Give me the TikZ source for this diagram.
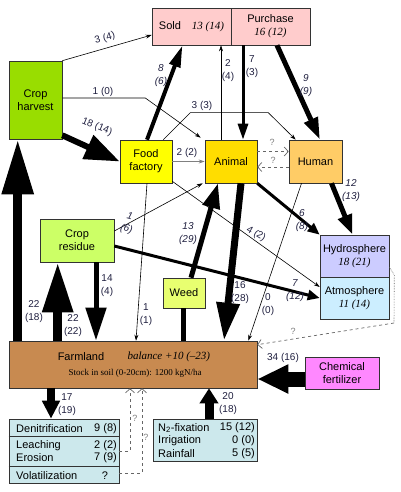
\documentclass[tikz,border=0pt]{standalone}
\usepackage{fontspec}
\setmainfont{Liberation Serif}
\setsansfont{Liberation Sans}
\usetikzlibrary{arrows.meta}
\definecolor{edge}{HTML}{333333}
\definecolor{labtext}{HTML}{202040}
\definecolor{pinkbox}{HTML}{FFCCCC}
\definecolor{harvestcol}{HTML}{99DD00}
\definecolor{factorycol}{HTML}{FFFF00}
\definecolor{animalcol}{HTML}{FFDD00}
\definecolor{humancol}{HTML}{FFCC66}
\definecolor{hydrocol}{HTML}{CCCCFF}
\definecolor{atmocol}{HTML}{CCEEFF}
\definecolor{residuecol}{HTML}{CCFF66}
\definecolor{weedcol}{HTML}{E8FF70}
\definecolor{farmcol}{HTML}{C88A50}
\definecolor{chemcol}{HTML}{FF88FF}
\definecolor{poolcol}{HTML}{CCE8EC}
\begin{document}
\begin{tikzpicture}[x=1pt,y=-1pt,
    box/.style={draw=edge,line width=0.6pt,inner sep=0pt,align=center,
      font=\sffamily\fontsize{11}{13}\selectfont},
    lab/.style={inner sep=0pt,align=center,text=labtext,
      font=\sffamily\fontsize{10}{13}\selectfont},
    slant/.style={lab,font=\sffamily\itshape\fontsize{10}{13}\selectfont},
    qlab/.style={lab,text=gray,font=\sffamily\fontsize{9}{11}\selectfont},
    thinflow/.style={line width=0.6pt,-{Stealth[length=6pt,width=4pt]}},
    flow/.style n args={3}{line width=#1,-{Triangle[length=#2,width=#3]}},
    guess/.style={dashed,gray!80!black,line width=0.7pt,-{Straight Barb[length=4pt,width=9pt]}}]
    \fill[white] (0,0) rectangle (400,492);
    \useasboundingbox (0,0) rectangle (400,492);
    %% boxes
    \node[box,fill=pinkbox,minimum width=79pt,minimum height=37pt] (sold) at (191.5,26.5)
      {Sold\quad{\rmfamily\itshape 13 (14)}};
    \node[box,fill=pinkbox,minimum width=79pt,minimum height=37pt] (purchase) at (270.5,26.5)
      {Purchase\\{\rmfamily\itshape 16 (12)}};
    \node[box,fill=harvestcol,minimum width=53pt,minimum height=78pt] (harvest) at (35.5,100)
      {Crop\\harvest};
    \node[box,fill=factorycol,minimum width=52pt,minimum height=43pt] (factory) at (146,161.5)
      {Food\\factory};
    \node[box,fill=animalcol,minimum width=52pt,minimum height=43pt] (animal) at (231,161.5)
      {Animal};
    \node[box,fill=humancol,minimum width=53pt,minimum height=43pt] (human) at (315.5,161.5)
      {Human};
    \node[box,fill=hydrocol,minimum width=69pt,minimum height=42pt] (hydro) at (354.5,256)
      {Hydrosphere\\{\rmfamily\itshape 18 (21)}};
    \node[box,fill=atmocol,minimum width=69pt,minimum height=42pt] (atmo) at (354.5,298)
      {Atmosphere\\{\rmfamily\itshape 11 (14)}};
    \node[box,fill=residuecol,minimum width=74pt,minimum height=43pt] (residue) at (77,240.5)
      {Crop\\residue};
    \node[box,fill=weedcol,minimum width=42pt,minimum height=30pt] (weed) at (184,293)
      {Weed};
    \node[box,fill=farmcol,minimum width=248pt,minimum height=47pt] (farm) at (133,364.5) {};
    \node[box,fill=chemcol,minimum width=74pt,minimum height=32pt] (chem) at (342,373)
      {Chemical\\fertilizer};
    \node[box,fill=poolcol,minimum width=110pt,minimum height=64pt] (loss) at (64,451) {};
    \node[box,fill=poolcol,minimum width=104pt,minimum height=42pt] (input) at (205,440) {};
    %% farmland texts
    \node[font=\sffamily\fontsize{11}{13}\selectfont] (farmname) at (81,357) {Farmland};
    \node[font=\rmfamily\itshape\fontsize{11}{13}\selectfont,anchor=west] (balance) at (124,357)
      {balance +10 (--23)};
    \node[font=\rmfamily\fontsize{9}{11}\selectfont,anchor=west] (stock) at (65,373)
      {Stock in soil (0-20cm): 1200 kgN/ha};
    %% losses
    \draw[edge,line width=0.6pt] ([yshift=-18pt]loss.north west) -- ([yshift=-18pt]loss.north east);
    \draw[edge,line width=0.6pt] ([yshift=-48pt]loss.north west) -- ([yshift=-48pt]loss.north east);
    \begin{scope}[every node/.style={font=\sffamily\fontsize{11}{13}\selectfont,inner sep=1pt}]
      \node[anchor=west] (denit) at (15,429) {Denitrification};
      \node[anchor=east] (denitv) at (118,429) {9 (8)};
      \node[anchor=west] (leach) at (15,446) {Leaching};
      \node[anchor=east] (leachv) at (118,446) {2 (2)};
      \node[anchor=west] (eros) at (15,458) {Erosion};
      \node[anchor=east] (erosv) at (118,458) {7 (9)};
      \node[anchor=west] (volat) at (15,476) {Volatilization};
      \node (volatv) at (105,476) {?};
      \node[anchor=west] (nfix) at (157,428) {N\textsubscript{2}-fixation};
      \node[anchor=east] (nfixv) at (256,428) {15 (12)};
      \node[anchor=west] (irri) at (157,441) {Irrigation};
      \node[anchor=east] (irriv) at (256,441) {0 (0)};
      \node[anchor=west] (rain) at (157,454) {Rainfall};
      \node[anchor=east] (rainv) at (256,454) {5 (5)};
    \end{scope}
    %% flows from crop harvest
    \draw[thinflow] (harvest.north east) -- ([yshift=-8.5pt]sold.west);
    \draw[thinflow] ([yshift=2pt]harvest.east) -- ++(83,0) -- ([xshift=-4pt,yshift=2pt]animal.north west);
    \draw[flow={6pt}{35pt}{25pt}] ([yshift=4pt]harvest.south east) -- (factory.west);
    %% food factory
    \draw[thinflow] ([xshift=-9pt]factory.north east) -- ++(27,-27) -- ++(78,0) -- ([xshift=7pt]human.north west);
    \draw[flow={4pt}{22pt}{11pt}] ([xshift=1pt]factory.north) -- ([xshift=-9pt]sold.south);
    \draw[thinflow,gray] (factory.east) -- (animal.west);
    \draw[thinflow] ([yshift=2pt]factory.south east) -- ([yshift=11pt]atmo.west);
    \draw[thinflow] ([xshift=1pt]factory.south) -- ([xshift=-10pt]factory.south |- farm.north);
    %% animal and human
    \draw[thinflow] ([xshift=-10pt]animal.north) -- ([xshift=-10pt]animal.north |- sold.south);
    \draw[flow={3pt}{16pt}{10pt}] ([xshift=12pt]animal.north |- purchase.south) -- ([xshift=12pt]animal.north);
    \draw[flow={5pt}{22pt}{14pt}] ([xshift=6.5pt]purchase.south) -- ([xshift=4.5pt]human.north);
    \draw[guess] ([yshift=10pt]animal.east) -- ([yshift=10pt]human.west);
    \draw[guess] ([yshift=-5.5pt]human.west) -- ([yshift=-5.5pt]animal.east);
    \draw[flow={5pt}{20pt}{14pt}] ([xshift=16pt]human.south) -- ([xshift=-2pt]hydro.north);
    \draw[flow={3pt}{12pt}{10pt}] (animal.south east) -- (hydro.north west);
    \draw[flow={7pt}{38pt}{22pt}] ([xshift=10pt]animal.south) -- ([xshift=-7pt]animal.south |- farm.north);
    \draw[thinflow] ([xshift=-14pt]human.south) -- ([xshift=-9pt]farm.north east);
    %% crop residue and weed
    \draw[thinflow] ([yshift=9.5pt]residue.east) -- ([xshift=-2pt]animal.south west);
    \draw[flow={3pt}{12pt}{10pt}] ([yshift=-5.5pt]residue.east) -- (atmo.west);
    \draw[flow={5pt}{25pt}{17pt}] ([xshift=7pt]weed.north) -- ([xshift=-13pt]animal.south);
    \draw[line width=5pt] ([xshift=-1pt]weed.south) -- ([xshift=-1pt]weed.south |- farm.north);
    %% hydrosphere/atmosphere back to farmland
    \coordinate (bend) at (394,323);
    \draw[densely dotted,gray!80!black,line width=0.6pt] ([yshift=-11pt]hydro.east) -- ++(5,8) -- (bend);
    \draw[guess] (bend) -- ([yshift=-4pt]farm.north east);
    %% farmland
    \draw[flow={9pt}{55pt}{30pt}] ([xshift=9pt]farm.north west) -- ([xshift=9pt]harvest.south west);
    \draw[flow={9pt}{50pt}{29pt}] ([xshift=18pt]residue.south west |- farm.north) -- ([xshift=18pt]residue.south west);
    \draw[flow={5pt}{33pt}{20pt}] ([xshift=19pt]residue.south) -- ([xshift=19pt]residue.south |- farm.north);
    \draw[flow={8pt}{18pt}{17pt}] ([xshift=-13pt]loss.north |- farm.south) -- ([xshift=-13pt]loss.north);
    \draw[flow={9pt}{15pt}{18pt}] ([xshift=4pt]input.north) -- ([xshift=4pt]input.north |- farm.south);
    \draw[flow={15pt}{31pt}{27pt}] ([yshift=-6pt]chem.west) -- ([yshift=-6pt]chem.west -| farm.east);
    \draw[guess] (loss.east) -| ([xshift=-3pt]farm.south);
    \draw[guess] ([yshift=-22pt]loss.east) -| ([xshift=9pt]farm.south);
    %% labels
    \node[lab,rotate=15] (l34a) at (105,38) {3 (4)};
    \node[lab] (l10) at (103,92) {1 (0)};
    \node[lab,rotate=-22] (l1814) at (97,127) {18 (14)};
    \node[slant] (l86) at (161,76) {8\\(6)};
    \node[lab] (l24) at (228,71) {2\\(4)};
    \node[lab] (l73) at (252,67) {7\\(3)};
    \node[slant] (l99) at (306,86) {9\\(9)};
    \node[lab] (l33) at (202,106) {3 (3)};
    \node[lab] (l22) at (187,153) {2 (2)};
    \node[qlab] (qah) at (272,142) {?};
    \node[qlab] (qha) at (273,160) {?};
    \node[slant] (l1213) at (351,191) {12\\(13)};
    \node[slant] (l68) at (302,221) {6\\(8)};
    \node[lab,rotate=-30] (l42) at (256,234) {4 (2)};
    \node[slant,rotate=-15] (l16a) at (128,223) {1\\(6)};
    \node[slant] (l1329) at (188,234) {13\\(29)};
    \node[slant] (l712) at (295,291) {7\\(12)};
    \node[lab] (l1628) at (240,293) {16\\(28)};
    \node[lab] (l00) at (268,305) {0\\(0)};
    \node[lab] (l11) at (146,315) {1\\(1)};
    \node[lab] (l144) at (107,286) {14\\(4)};
    \node[lab] (l2218) at (34,312) {22\\(18)};
    \node[lab] (l2222) at (73,326) {22\\(22)};
    \node[lab] (l1719) at (67,405) {17\\(19)};
    \node[lab] (l2018) at (228,404) {20\\(18)};
    \node[lab] (l3416) at (283,358) {34 (16)};
    \node[qlab] (qatm) at (293,331) {?};
    \node[qlab] (qleach) at (135,418) {?};
    \node[qlab] (qvol) at (146,437) {?};
\end{tikzpicture}
\end{document}
